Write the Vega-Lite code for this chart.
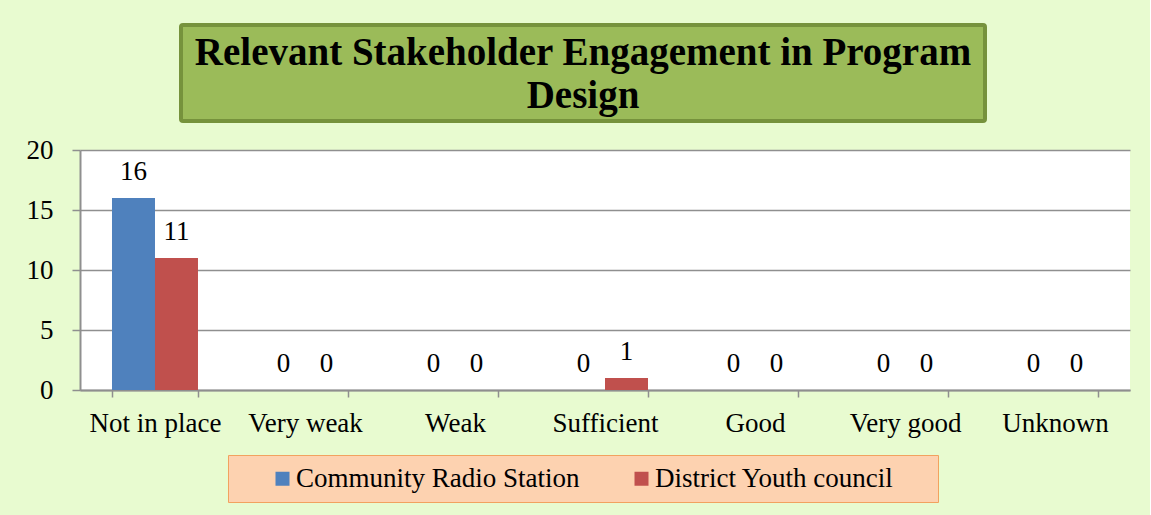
{
  "$schema": "https://vega.github.io/schema/vega-lite/v6.json",
  "background": "#e8fbd0",
  "padding": {"left": 26, "top": 23, "right": 20, "bottom": 12},
  "spacing": 13,
  "center": true,
  "config": {"font": "Liberation Serif", "view": {"stroke": null}},
  "vconcat": [
    {
      "hconcat": [
        {
          "width": 804,
          "height": 96,
          "view": {"fill": "#9bbb59", "stroke": "#76923c", "strokeWidth": 4, "cornerRadius": 2},
          "data": {"values": [{"t": "Relevant Stakeholder Engagement in Program\nDesign"}]},
          "mark": {"type": "text", "font": "Liberation Serif", "fontWeight": "bold", "fontSize": 39, "lineBreak": "\n", "lineHeight": 43, "baseline": "alphabetic", "dy": -8, "color": "black"},
          "encoding": {"text": {"field": "t", "type": "nominal"}}
        },
        {
          "width": 42,
          "height": 96,
          "data": {"values": [{"s": 1}]},
          "mark": {"type": "point", "opacity": 0},
          "encoding": {}
        }
      ],
      "spacing": 0
    },
    {
      "width": 1050,
      "height": 240,
      "view": {"fill": "white", "stroke": null},
      "data": {"values": [
        {"category": "Not in place", "series": "Community Radio Station", "value": 16},
        {"category": "Not in place", "series": "District Youth council", "value": 11},
        {"category": "Very weak", "series": "Community Radio Station", "value": 0},
        {"category": "Very weak", "series": "District Youth council", "value": 0},
        {"category": "Weak", "series": "Community Radio Station", "value": 0},
        {"category": "Weak", "series": "District Youth council", "value": 0},
        {"category": "Sufficient", "series": "Community Radio Station", "value": 0},
        {"category": "Sufficient", "series": "District Youth council", "value": 1},
        {"category": "Good", "series": "Community Radio Station", "value": 0},
        {"category": "Good", "series": "District Youth council", "value": 0},
        {"category": "Very good", "series": "Community Radio Station", "value": 0},
        {"category": "Very good", "series": "District Youth council", "value": 0},
        {"category": "Unknown", "series": "Community Radio Station", "value": 0},
        {"category": "Unknown", "series": "District Youth council", "value": 0}
      ]},
      "encoding": {
        "x": {
          "field": "category",
          "type": "nominal",
          "sort": ["Not in place", "Very weak", "Weak", "Sufficient", "Good", "Very good", "Unknown"],
          "scale": {"paddingInner": 0.4267, "paddingOuter": 0.2133},
          "axis": {"title": null, "labelAngle": 0, "tickBand": "extent", "tickSize": 7, "tickColor": "#8f8f8f", "tickWidth": 1.5, "domainColor": "#8f8f8f", "domainWidth": 2, "labelFontSize": 27, "labelColor": "black", "labelPadding": 13, "labelFont": "Liberation Serif", "labelLimit": 300, "grid": false}
        },
        "xOffset": {"field": "series", "type": "nominal", "sort": ["Community Radio Station", "District Youth council"]},
        "y": {
          "field": "value",
          "type": "quantitative",
          "scale": {"domain": [0, 20]},
          "axis": {"values": [0, 5, 10, 15, 20], "title": null, "grid": true, "gridColor": "#8f8f8f", "gridWidth": 1.5, "domainColor": "#8f8f8f", "domainWidth": 2, "tickColor": "#8f8f8f", "tickSize": 8, "tickWidth": 1.5, "labelFontSize": 27, "labelColor": "black", "labelPadding": 19, "labelFont": "Liberation Serif"}
        }
      },
      "layer": [
        {
          "mark": {"type": "bar"},
          "encoding": {
            "color": {
              "field": "series",
              "type": "nominal",
              "scale": {"domain": ["Community Radio Station", "District Youth council"], "range": ["#4f81bd", "#c0504d"]},
              "legend": {"orient": "none", "legendX": 148, "legendY": 430, "direction": "horizontal", "columns": 2, "title": " ", "titleOrient": "left", "titlePadding": 31, "padding": 10, "fillColor": "#fdd2b0", "strokeColor": "#f2a25f", "symbolType": "square", "symbolSize": 196, "symbolStrokeWidth": 0, "labelFontSize": 27, "labelFont": "Liberation Serif", "labelColor": "black", "labelOffset": 0, "columnPadding": 48, "labelLimit": 400, "labelExpr": "datum.value == 'District Youth council' ? datum.label + '\u00a0\u00a0\u00a0\u00a0\u00a0\u200b' : datum.label"}
            }
          }
        },
        {
          "mark": {"type": "text", "baseline": "alphabetic", "dy": -18, "fontSize": 27, "font": "Liberation Serif", "color": "black"},
          "encoding": {"text": {"field": "value", "type": "quantitative"}}
        }
      ]
    }
  ]
}
